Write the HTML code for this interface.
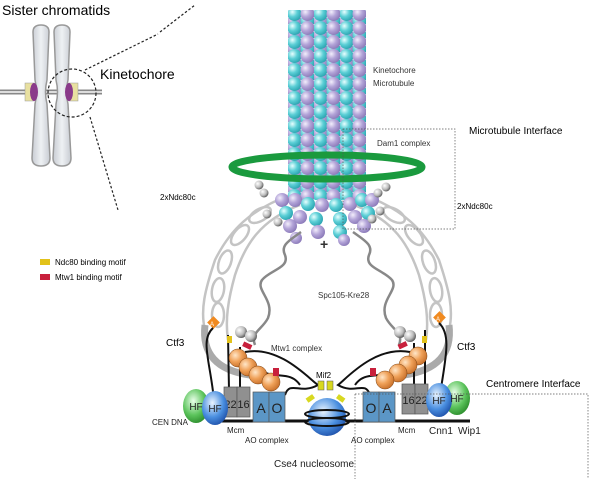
<!DOCTYPE html>
<html><head><meta charset="utf-8"><style>
body{margin:0;background:#fff}
svg{display:block;font-family:"Liberation Sans",Arial,sans-serif}
</style></head><body>
<svg width="600" height="479" viewBox="0 0 600 479" xmlns="http://www.w3.org/2000/svg">
<defs>
<radialGradient id="cy" cx="0.35" cy="0.35" r="0.7"><stop offset="0" stop-color="#e8ffff"/><stop offset="0.5" stop-color="#5ccfd6"/><stop offset="1" stop-color="#2aa3b0"/></radialGradient>
<radialGradient id="pu" cx="0.35" cy="0.35" r="0.7"><stop offset="0" stop-color="#f3eefc"/><stop offset="0.5" stop-color="#b3a4d8"/><stop offset="1" stop-color="#8a79b8"/></radialGradient>
<radialGradient id="or" cx="0.35" cy="0.35" r="0.7"><stop offset="0" stop-color="#ffe6c8"/><stop offset="0.5" stop-color="#f0a25a"/><stop offset="1" stop-color="#c8702a"/></radialGradient>
<radialGradient id="gy" cx="0.35" cy="0.35" r="0.7"><stop offset="0" stop-color="#fff"/><stop offset="0.6" stop-color="#bbb"/><stop offset="1" stop-color="#555"/></radialGradient>
<radialGradient id="bl" cx="0.4" cy="0.35" r="0.7"><stop offset="0" stop-color="#eaf4ff"/><stop offset="0.6" stop-color="#4a8fe0"/><stop offset="1" stop-color="#1d4fa8"/></radialGradient>
<radialGradient id="gr" cx="0.4" cy="0.35" r="0.7"><stop offset="0" stop-color="#eaffea"/><stop offset="0.6" stop-color="#5cc45c"/><stop offset="1" stop-color="#2a8a2a"/></radialGradient>
<linearGradient id="chr" x1="0" x2="1"><stop offset="0" stop-color="#c8ccd2"/><stop offset="0.5" stop-color="#eef1f4"/><stop offset="1" stop-color="#c8ccd2"/></linearGradient>
<pattern id="mt" x="288" y="0" width="26" height="14" patternUnits="userSpaceOnUse">
<circle cx="6.5" cy="7" r="7" fill="url(#pu)"/><circle cx="19.5" cy="7" r="7" fill="url(#cy)"/>
<circle cx="6.5" cy="0" r="7" fill="url(#cy)"/><circle cx="19.5" cy="0" r="7" fill="url(#pu)"/>
<circle cx="6.5" cy="14" r="7" fill="url(#cy)"/><circle cx="19.5" cy="14" r="7" fill="url(#pu)"/>
</pattern>
</defs>

<!-- chromatids -->
<text x="2" y="15" font-size="14">Sister chromatids</text>
<line x1="0" y1="92" x2="102" y2="92" stroke="#888" stroke-width="5"/>
<line x1="0" y1="92" x2="102" y2="92" stroke="#ddd" stroke-width="2"/>
<rect x="25" y="83" width="9" height="18" fill="#e8e0a0" stroke="#999" stroke-width="0.5"/>
<rect x="69" y="83" width="9" height="18" fill="#e8e0a0" stroke="#999" stroke-width="0.5"/>
<path d="M33,32 Q33,25 41,25 Q49,25 49,32 L47,80 Q44,92 47,104 L50,158 Q50,166 41,166 Q32,166 32,158 L35,104 Q38,92 35,80 Z" fill="url(#chr)" stroke="#999" stroke-width="1.5"/>
<path d="M54,32 Q54,25 62,25 Q70,25 70,32 L68,80 Q65,92 68,104 L71,158 Q71,166 62,166 Q53,166 53,158 L56,104 Q59,92 56,80 Z" fill="url(#chr)" stroke="#999" stroke-width="1.5"/>
<ellipse cx="34" cy="92" rx="4" ry="9" fill="#8a3a8a"/>
<ellipse cx="69" cy="92" rx="4" ry="9" fill="#8a3a8a"/>
<circle cx="72" cy="93" r="24" fill="none" stroke="#222" stroke-width="1.2" stroke-dasharray="3,2"/>
<line x1="85" y1="70" x2="158" y2="34" stroke="#222" stroke-width="1.2" stroke-dasharray="2.5,2"/>
<line x1="90" y1="117" x2="118" y2="210" stroke="#222" stroke-width="1.2" stroke-dasharray="2.5,2"/>
<line x1="160" y1="32" x2="195" y2="5" stroke="#222" stroke-width="1.2" stroke-dasharray="2.5,2"/>
<text x="100" y="79" font-size="14">Kinetochore</text>

<!-- legend -->
<rect x="40" y="259" width="10" height="6" fill="#e2c21a"/>
<text x="55" y="265" font-size="8">Ndc80 binding motif</text>
<rect x="40" y="274" width="10" height="6" fill="#c8203c"/>
<text x="55" y="280" font-size="8">Mtw1 binding motif</text>

<!-- Ndc80 loops (grey) -->
<g fill="none" stroke="#c4c4c4" stroke-width="2.5">
<path d="M290,195 C250,210 230,230 215,260 C205,290 200,310 205,330 M300,205 C260,220 245,245 235,275 C228,300 225,320 228,340"/>
<path d="M364,195 C404,210 424,230 439,260 C449,290 454,310 449,330 M354,205 C394,220 409,245 419,275 C426,300 429,320 426,340"/>
<ellipse cx="260" cy="215" rx="12" ry="6" transform="rotate(-30 260 215)"/>
<ellipse cx="240" cy="235" rx="12" ry="6" transform="rotate(-50 240 235)"/>
<ellipse cx="225" cy="262" rx="12" ry="6" transform="rotate(-70 225 262)"/>
<ellipse cx="218" cy="290" rx="12" ry="6" transform="rotate(-80 218 290)"/>
<ellipse cx="218" cy="315" rx="12" ry="6" transform="rotate(90 218 315)"/>
<ellipse cx="394" cy="215" rx="12" ry="6" transform="rotate(30 394 215)"/>
<ellipse cx="414" cy="235" rx="12" ry="6" transform="rotate(50 414 235)"/>
<ellipse cx="429" cy="262" rx="12" ry="6" transform="rotate(70 429 262)"/>
<ellipse cx="436" cy="290" rx="12" ry="6" transform="rotate(80 436 290)"/>
<ellipse cx="436" cy="315" rx="12" ry="6" transform="rotate(90 436 315)"/>
</g>

<!-- microtubule -->
<rect x="288" y="10" width="78" height="190" fill="url(#mt)"/>
<g>
<circle cx="295" cy="200" r="7" fill="url(#pu)"/><circle cx="308" cy="204" r="7" fill="url(#cy)"/><circle cx="322" cy="205" r="7" fill="url(#pu)"/><circle cx="336" cy="205" r="7" fill="url(#cy)"/><circle cx="350" cy="204" r="7" fill="url(#pu)"/><circle cx="362" cy="200" r="7" fill="url(#cy)"/>
<circle cx="282" cy="200" r="7" fill="url(#pu)"/><circle cx="372" cy="200" r="7" fill="url(#pu)"/>
<circle cx="286" cy="213" r="7" fill="url(#cy)"/><circle cx="300" cy="217" r="7" fill="url(#pu)"/><circle cx="316" cy="219" r="7" fill="url(#cy)"/><circle cx="340" cy="219" r="7" fill="url(#cy)"/><circle cx="355" cy="217" r="7" fill="url(#pu)"/><circle cx="368" cy="213" r="7" fill="url(#cy)"/>
<circle cx="290" cy="226" r="7" fill="url(#pu)"/><circle cx="318" cy="232" r="7" fill="url(#pu)"/><circle cx="340" cy="232" r="7" fill="url(#cy)"/><circle cx="364" cy="226" r="7" fill="url(#pu)"/>
<circle cx="296" cy="238" r="6" fill="url(#pu)"/><circle cx="344" cy="240" r="6" fill="url(#pu)"/>
</g>
<ellipse cx="327" cy="167" rx="95" ry="12" fill="none" stroke="#1a9a3e" stroke-width="7"/>
<g fill="url(#gy)"><circle cx="259" cy="185" r="4.5"/><circle cx="264" cy="193" r="4.5"/><circle cx="267" cy="214" r="4.5"/><circle cx="278" cy="222" r="4.5"/><circle cx="386" cy="187" r="4.5"/><circle cx="378" cy="193" r="4.5"/><circle cx="380" cy="211" r="4.5"/><circle cx="372" cy="219" r="4.5"/></g>
<text x="320" y="249" font-size="14" font-weight="bold" fill="#333">+</text>

<text x="373" y="73" font-size="8" fill="#333">Kinetochore</text>
<text x="373" y="86" font-size="8" fill="#333">Microtubule</text>
<text x="469" y="134" font-size="10">Microtubule Interface</text>
<path d="M343,129 H455 V229 H343 Z" fill="none" stroke="#555" stroke-width="0.7" stroke-dasharray="1.5,1.5"/>
<text x="377" y="146" font-size="8" fill="#333">Dam1 complex</text>
<text x="160" y="200" font-size="8">2xNdc80c</text>
<text x="457" y="209" font-size="8">2xNdc80c</text>

<!-- Spc105 -->
<g fill="none" stroke="#888" stroke-width="2.5">
<path d="M301,232 C290,240 280,245 285,255 C290,268 270,270 262,280 C255,290 275,300 268,318 C262,330 250,332 255,345"/>
<path d="M353,232 C364,240 374,245 369,255 C364,268 384,270 392,280 C399,290 379,300 386,318 C392,330 404,332 399,345"/>
</g>
<text x="318" y="298" font-size="8" fill="#333">Spc105-Kre28</text>

<!-- Ctf3 arcs -->
<path d="M205,325 Q200,368 250,375" fill="none" stroke="#aaa" stroke-width="7"/>
<path d="M449,325 Q454,368 404,375" fill="none" stroke="#aaa" stroke-width="7"/>
<text x="166" y="346" font-size="10">Ctf3</text>
<text x="457" y="350" font-size="10">Ctf3</text>
<rect x="209" y="318" width="9" height="9" fill="#f08a20" transform="rotate(45 213.5 322.5)"/>
<text x="210" y="326" font-size="6" fill="#fff">A</text>
<rect x="435" y="313" width="9" height="9" fill="#f08a20" transform="rotate(45 439.5 317.5)"/>
<text x="436" y="321" font-size="6" fill="#fff">A</text>

<!-- black strands -->
<g fill="none" stroke="#111" stroke-width="2">
<path d="M213,328 C200,340 210,360 214,400"/>
<path d="M228,335 L229,390 M240,347 L240,390"/>
<path d="M439,323 C452,335 445,360 440,395"/>
<path d="M425,330 L425,385 M414,343 L414,385"/>
<path d="M245,352 C280,345 310,380 318,385 C300,395 290,380 285,395"/>
<path d="M260,370 C275,380 290,370 300,385"/>
<path d="M410,352 C375,345 345,380 338,385 C355,395 365,380 370,395"/>
<path d="M395,370 C380,380 365,370 355,385"/>
</g>
<rect x="227" y="336" width="5" height="7" fill="#e2c21a"/>
<rect x="422" y="336" width="5" height="7" fill="#e2c21a"/>

<!-- grey balls -->
<g fill="url(#gy)"><circle cx="241" cy="332" r="6"/><circle cx="251" cy="336" r="6"/><circle cx="400" cy="332" r="6"/><circle cx="410" cy="336" r="6"/></g>
<!-- orange Mtw1 -->
<g fill="url(#or)" stroke="#7a4010" stroke-width="0.5">
<circle cx="238" cy="358" r="9"/><circle cx="248" cy="367" r="9"/><circle cx="258" cy="375" r="9"/><circle cx="271" cy="382" r="9"/>
<circle cx="418" cy="356" r="9"/><circle cx="408" cy="365" r="9"/><circle cx="398" cy="373" r="9"/><circle cx="385" cy="380" r="9"/>
</g>
<rect x="243" y="343" width="9" height="5" fill="#c8203c" transform="rotate(25 247 345)"/>
<rect x="273" y="368" width="6" height="8" fill="#c8203c"/>
<rect x="398" y="343" width="9" height="5" fill="#c8203c" transform="rotate(-25 402 345)"/>
<rect x="370" y="368" width="6" height="8" fill="#c8203c"/>
<text x="271" y="351" font-size="8" fill="#333">Mtw1 complex</text>

<!-- Mif2 -->
<text x="316" y="378" font-size="8">Mif2</text>
<rect x="318" y="381" width="6" height="9" fill="#d8d820" stroke="#555" stroke-width="0.5"/>
<rect x="327" y="381" width="6" height="9" fill="#d8d820" stroke="#555" stroke-width="0.5"/>
<rect x="306" y="396" width="8" height="5" fill="#d8d820" transform="rotate(-35 310 398)"/>
<rect x="337" y="396" width="8" height="5" fill="#d8d820" transform="rotate(35 341 398)"/>

<!-- DNA -->
<line x1="208" y1="421" x2="470" y2="421" stroke="#111" stroke-width="3"/>
<circle cx="327" cy="417" r="19" fill="url(#bl)"/>
<ellipse cx="327" cy="414" rx="22" ry="4" fill="none" stroke="#111" stroke-width="2"/>
<ellipse cx="327" cy="422" rx="22" ry="4" fill="none" stroke="#111" stroke-width="2"/>

<!-- boxes -->
<g stroke="#555" stroke-width="0.7" font-size="11" text-anchor="middle">
<rect x="224" y="387" width="13" height="30" fill="#909090"/><rect x="237" y="387" width="13" height="30" fill="#909090"/>
<text x="230.5" y="408" fill="#222" stroke="none">22</text><text x="243.5" y="408" fill="#222" stroke="none">16</text>
<rect x="253" y="392" width="16" height="30" fill="#5b96c6"/><rect x="269" y="392" width="16" height="30" fill="#5b96c6"/>
<text x="261" y="413" font-size="14" fill="#222" stroke="none">A</text><text x="277" y="413" font-size="14" fill="#222" stroke="none">O</text>
<rect x="363" y="392" width="16" height="30" fill="#5b96c6"/><rect x="379" y="392" width="16" height="30" fill="#5b96c6"/>
<text x="371" y="413" font-size="14" fill="#222" stroke="none">O</text><text x="387" y="413" font-size="14" fill="#222" stroke="none">A</text>
<rect x="402" y="384" width="13" height="30" fill="#909090"/><rect x="415" y="384" width="13" height="30" fill="#909090"/>
<text x="408.5" y="404" fill="#222" stroke="none">16</text><text x="421.5" y="404" fill="#222" stroke="none">22</text>
</g>
<ellipse cx="196" cy="406" rx="13" ry="17" fill="url(#gr)"/>
<ellipse cx="215" cy="408" rx="13" ry="17" fill="url(#bl)"/>
<ellipse cx="457" cy="398" rx="13" ry="17" fill="url(#gr)"/>
<ellipse cx="439" cy="400" rx="13" ry="17" fill="url(#bl)"/>
<g font-size="10" fill="#222" text-anchor="middle"><text x="196" y="410">HF</text><text x="215" y="412">HF</text><text x="439" y="404">HF</text><text x="457" y="402">HF</text></g>

<path d="M355,394 H588 V479" fill="none" stroke="#555" stroke-width="0.7" stroke-dasharray="1.5,1.5"/>
<path d="M355,394 V479" fill="none" stroke="#555" stroke-width="0.7" stroke-dasharray="1.5,1.5"/>
<text x="486" y="387" font-size="10">Centromere Interface</text>

<g font-size="8" fill="#222">
<text x="152" y="425">CEN DNA</text>
<text x="227" y="433">Mcm</text>
<text x="245" y="443">AO complex</text>
<text x="351" y="443">AO complex</text>
<text x="398" y="433">Mcm</text>
<text x="429" y="434" font-size="10">Cnn1</text>
<text x="458" y="434" font-size="10">Wip1</text>
<text x="274" y="467" font-size="10">Cse4 nucleosome</text>
</g>
</svg>
</body></html>
